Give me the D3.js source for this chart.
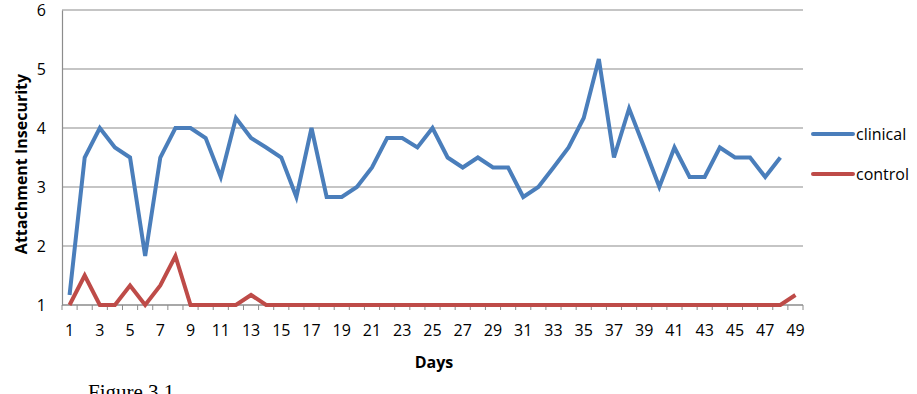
<!DOCTYPE html>
<html>
<head>
<meta charset="utf-8">
<script src="https://cdn.jsdelivr.net/npm/d3@7"></script>
<style>
  body { margin: 0; background: #fff; }
  svg text { font-family: "Open Sans", "Liberation Sans", sans-serif; }
</style>
</head>
<body>
<div id="chart"></div>
<script>
// days on the x axis
const days = d3.range(1, 50);

// clinical group, days 1..48
const clinical = [1.17, 3.5, 4, 3.67, 3.5, 1.83, 3.5, 4, 4, 3.83,
  3.17, 4.17, 3.83, 3.67, 3.5, 2.83, 4, 2.83, 2.83, 3,
  3.33, 3.83, 3.83, 3.67, 4, 3.5, 3.33, 3.5, 3.33, 3.33,
  2.83, 3, 3.33, 3.67, 4.17, 5.17, 3.5, 4.33, 3.67, 3,
  3.67, 3.17, 3.17, 3.67, 3.5, 3.5, 3.17, 3.5];

// control group, days 1..49
const control = [1, 1.5, 1, 1, 1.33, 1, 1.33, 1.83, 1, 1,
  1, 1, 1.17, 1, 1, 1, 1, 1, 1, 1,
  1, 1, 1, 1, 1, 1, 1, 1, 1, 1,
  1, 1, 1, 1, 1, 1, 1, 1, 1, 1,
  1, 1, 1, 1, 1, 1, 1, 1, 1.17];

const yTicks = [1, 2, 3, 4, 5, 6];
const seriesNames = ['clinical', 'control'];
const colors = ['#4a7ebb', '#be4b48'];

const svg = d3.select('#chart').append('svg').attr('width', 917).attr('height', 394);

const margin = { left: 62, top: 10, right: 114, bottom: 89 };
const width = 917 - margin.left - margin.right;
const height = 394 - margin.top - margin.bottom;

const x = d3.scaleBand().domain(days).range([0, width]);
const y = d3.scaleLinear().domain([1, 6]).range([height, 0]);

const g = svg.append('g').attr('transform', `translate(${margin.left},${margin.top})`);

// horizontal gridlines
g.append('g')
  .selectAll('line')
  .data(yTicks)
  .join('line')
  .attr('x1', 0)
  .attr('x2', width)
  .attr('y1', d => y(d))
  .attr('y2', d => y(d))
  .attr('stroke', '#8c8c8c')
  .attr('stroke-width', 1.2);

// y axis
const yAxis = g.append('g').call(d3.axisLeft(y).tickValues(yTicks).tickFormat(d3.format('d')).tickSize(0).tickPadding(16));
yAxis.select('.domain').attr('stroke', '#8c8c8c').attr('stroke-width', 1.2);
yAxis.selectAll('text').attr('font-size', 16).attr('fill', '#000');

// x axis: ticks between categories like excel
const xAxisG = g.append('g').attr('transform', `translate(0,${height})`);
xAxisG.append('line').attr('x1', 0).attr('x2', width).attr('stroke', '#8c8c8c').attr('stroke-width', 1.2);
xAxisG.selectAll('.tk')
  .data(d3.range(0, days.length + 1))
  .join('line')
  .attr('class', 'tk')
  .attr('x1', i => i * x.step())
  .attr('x2', i => i * x.step())
  .attr('y1', 0)
  .attr('y2', 5)
  .attr('stroke', '#8c8c8c');
xAxisG.selectAll('.lbl')
  .data(days.filter(d => d % 2 === 1))
  .join('text')
  .attr('class', 'lbl')
  .attr('x', d => x(d) + x.bandwidth() / 2)
  .attr('y', 31)
  .attr('text-anchor', 'middle')
  .attr('font-size', 16)
  .text(d => d);

// lines
const line = d3.line()
  .x((d, i) => x(days[i]) + x.bandwidth() / 2)
  .y(d => y(d));

[clinical, control].forEach((vals, k) => {
  g.append('path')
    .datum(vals)
    .attr('fill', 'none')
    .attr('stroke', colors[k])
    .attr('stroke-width', 4)
    .attr('stroke-linejoin', 'miter')
    .attr('d', line);
});

// axis titles
svg.append('text')
  .attr('transform', 'translate(27,164) rotate(-90)')
  .attr('text-anchor', 'middle')
  .attr('font-size', 16)
  .attr('font-weight', 'bold')
  .text('Attachment Insecurity');

svg.append('text')
  .attr('x', 434)
  .attr('y', 368)
  .attr('text-anchor', 'middle')
  .attr('font-size', 16)
  .attr('font-weight', 'bold')
  .text('Days');

// legend
const legend = svg.append('g').attr('transform', 'translate(813,134)');
seriesNames.forEach((name, k) => {
  const row = legend.append('g').attr('transform', `translate(0,${k * 40})`);
  row.append('line').attr('x1', 0).attr('x2', 40).attr('stroke', colors[k]).attr('stroke-width', 4).attr('stroke-linecap', 'round');
  row.append('text').attr('x', 43).attr('y', 6).attr('font-size', 16).text(name);
});

// caption below the chart (cut at the bottom edge, as in the source)
svg.append('text')
  .attr('x', 88)
  .attr('y', 399)
  .style('font-family', '"Liberation Serif", "Times New Roman", serif')
  .attr('font-size', 21)
  .text('Figure 3.1');
</script>
</body>
</html>
